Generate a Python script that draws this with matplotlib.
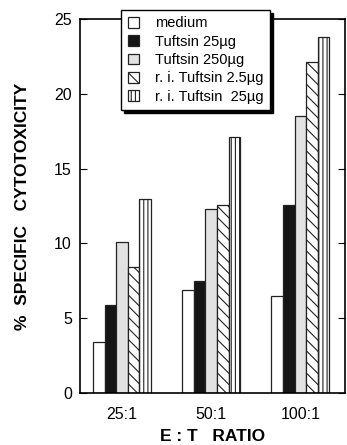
import numpy as np
import matplotlib.pyplot as plt

plt.rcParams['font.family'] = ['Liberation Sans', 'DejaVu Sans']
plt.rcParams['hatch.linewidth'] = 0.8

ratios = ['25:1', '50:1', '100:1']
series = ['medium', 'Tuftsin 25\u00b5g', 'Tuftsin 250\u00b5g',
          'r. i. Tuftsin 2.5\u00b5g', 'r. i. Tuftsin  25\u00b5g']
medium = [3.4, 6.9, 6.5]
tuft25 = [5.9, 7.5, 12.6]
tuft250 = [10.1, 12.3, 18.5]
ri_tuft2_5 = [8.4, 12.6, 22.1]
ri_tuft25 = [13.0, 17.1, 23.8]
values = [medium, tuft25, tuft250, ri_tuft2_5, ri_tuft25]

faces = ['white', '#151515', '#e2e2e2', 'white', 'white']
hatches = [None, None, None, '\\\\\\', '||||']

fig = plt.figure(figsize=(3.47, 4.45), dpi=100)
ax = fig.add_axes([0.231, 0.117, 0.763, 0.840])

x = np.arange(len(ratios))
w = 0.13
for i, (vals, name) in enumerate(zip(values, series)):
    ax.bar(x + (i - 2) * w, vals, w, color=faces[i], edgecolor='#222222',
           hatch=hatches[i], linewidth=0.9, label=name)

ax.set_xlim(-0.47, 2.5)
ax.set_ylim(0, 25)
ax.set_yticks([0, 5, 10, 15, 20, 25])
ax.set_xticks(x)
ax.set_xticklabels(ratios)
ax.tick_params(axis='y', direction='in', right=True, length=5, labelsize=11.5, pad=6)
ax.tick_params(axis='x', length=0, labelsize=11.5, pad=10)
for s in ax.spines.values():
    s.set_linewidth(1.2)
ax.set_ylabel('%  SPECIFIC   CYTOTOXICITY', fontweight='bold', fontsize=12.5, labelpad=17)
ax.set_xlabel('E : T   RATIO', fontweight='bold', fontsize=12.5, labelpad=5)

leg = fig.legend(loc='upper left', bbox_to_anchor=(0.349, 0.978), fontsize=10.5,
                 frameon=True, fancybox=False, shadow={'color': 'black', 'alpha': 1},
                 handlelength=0.75, handleheight=0.75, handletextpad=1.1,
                 labelspacing=0.3, borderpad=0.45, borderaxespad=0,
                 edgecolor='black', framealpha=1)
leg.get_frame().set_linewidth(1.0)

fig.savefig('out.png', dpi=100)
